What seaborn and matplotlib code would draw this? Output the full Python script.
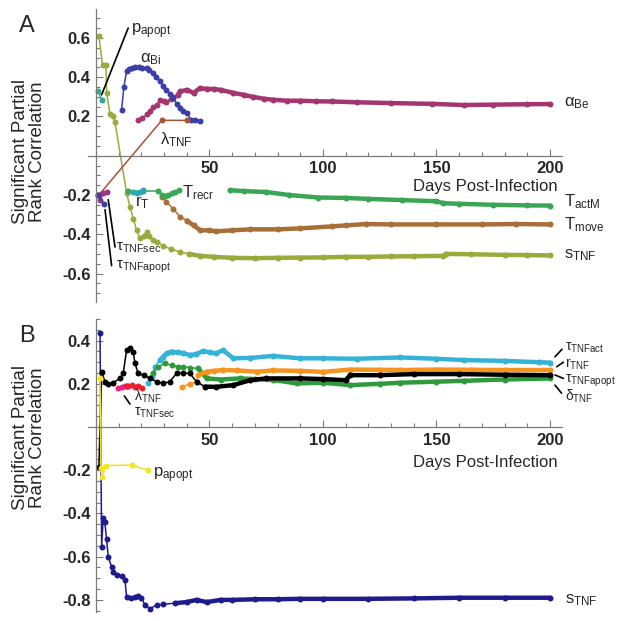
import numpy as np
import matplotlib
matplotlib.use('Agg')
import matplotlib.pyplot as plt
from matplotlib.ticker import MultipleLocator
import seaborn as sns

sns.set_style('ticks')
plt.rcParams['font.family'] = ['Liberation Sans', 'DejaVu Sans']
plt.rcParams['mathtext.fontset'] = 'custom'
plt.rcParams['mathtext.rm'] = 'Liberation Sans'
plt.rcParams['mathtext.it'] = 'Liberation Sans:italic'
plt.rcParams['mathtext.bf'] = 'Liberation Sans:bold'

# ---------------- panel A data (days post-infection, PRCC) ----------------
sTNF_A_days = [1.3, 2.9, 4.4, 4.7, 6.2, 7.6, 8.4, 13.5, 15, 16.4, 17.9, 19.4, 21, 22.3, 23.5, 25.2,
               27, 29.7, 33, 37, 41, 45.8, 52, 60, 70, 80, 90, 100, 110, 120, 130, 140, 153, 154,
               165, 180, 190, 200]
sTNF_A_vals = [0.61, 0.46, 0.46, 0.32, 0.21, 0.20, 0.17, -0.19, -0.26, -0.32, -0.38, -0.42, -0.41,
               -0.39, -0.41, -0.43, -0.44, -0.46, -0.475, -0.49, -0.50, -0.51, -0.515, -0.52, -0.522,
               -0.52, -0.519, -0.518, -0.515, -0.515, -0.513, -0.512, -0.51, -0.50, -0.502, -0.505,
               -0.506, -0.508]

Tmove_A_days = [29, 31, 34, 37, 40, 43, 46, 50, 53, 60, 68, 80, 90, 104, 110, 119, 130, 150, 170, 185, 200]
Tmove_A_vals = [-0.21, -0.235, -0.27, -0.31, -0.33, -0.355, -0.38, -0.38, -0.385, -0.38, -0.375,
                -0.375, -0.37, -0.36, -0.355, -0.348, -0.35, -0.35, -0.35, -0.348, -0.35]

TactM_A_days = [59, 65, 75, 85, 98, 110, 120, 135, 150, 153, 160, 175, 190, 200]
TactM_A_vals = [-0.176, -0.18, -0.185, -0.2, -0.213, -0.215, -0.22, -0.226, -0.232, -0.242, -0.245,
                -0.25, -0.253, -0.254]

Trecr_A_days = [14.2, 20.8, 27.5, 29, 30.4, 31.9, 33.3, 35, 36.7]
Trecr_A_vals = [-0.18, -0.18, -0.18, -0.2, -0.207, -0.2, -0.19, -0.185, -0.176]

rT_A_days = [16.5, 17.9, 19.4, 20.6]
rT_A_vals = [-0.185, -0.19, -0.185, -0.173]

aBe_A_days = [18.6, 20.5, 22.3, 24, 25.2, 27, 28.2, 30, 31, 33, 34, 36, 37, 40, 43, 45.8, 49, 52, 55,
              60.5, 65, 69, 74, 78, 84, 90, 97, 104, 115, 130, 148, 162, 175, 190, 200]
aBe_A_vals = [0.18, 0.19, 0.21, 0.23, 0.25, 0.26, 0.285, 0.28, 0.275, 0.29, 0.30, 0.31, 0.327, 0.335,
              0.32, 0.344, 0.34, 0.34, 0.335, 0.32, 0.31, 0.30, 0.29, 0.285, 0.28, 0.28, 0.277, 0.276,
              0.272, 0.268, 0.264, 0.258, 0.26, 0.262, 0.263]

aBi_A_days = [11.3, 12.3, 13.5, 14.5, 15.7, 17, 19, 20.5, 22.3, 23.5, 25.2, 26.5, 28.2, 29.5, 31,
              32.5, 34, 35.5, 37, 38.5, 40, 42, 43.5, 45.8]
aBi_A_vals = [0.234, 0.35, 0.43, 0.44, 0.446, 0.45, 0.45, 0.447, 0.446, 0.435, 0.42, 0.40, 0.378,
              0.355, 0.335, 0.315, 0.293, 0.265, 0.242, 0.23, 0.217, 0.183, 0.18, 0.177]

lTNF_A_days = [1.3, 29, 40]
lTNF_A_vals = [-0.2, 0.18, 0.18]

papopt_A_days = [1.0, 2.5]
papopt_A_vals = [0.33, 0.285]

tTNFsec_A_days = [1.0, 1.8, 3.2, 4.7]
tTNFsec_A_vals = [-0.2, -0.225, -0.19, -0.185]

tTNFapopt_A_days = [1.0, 3.5]
tTNFapopt_A_vals = [-0.2, -0.245]

# ---------------- panel B data ----------------
sTNF_B_days = [1.8, 2.5, 3.2, 3.9, 4.7, 5.4, 6.9, 7.6, 9.1, 11.3, 12.8, 13.5, 15.5, 17, 18.6, 20,
               21.6, 23.8, 26.7, 29.7, 35, 40, 44.3, 48.8, 55, 60, 70, 80, 90, 100, 120, 140, 160,
               180, 200]
sTNF_B_vals = [0.433, -0.554, -0.42, -0.44, -0.52, -0.60, -0.647, -0.67, -0.685, -0.69, -0.708,
               -0.786, -0.79, -0.786, -0.783, -0.79, -0.824, -0.84, -0.824, -0.82, -0.815, -0.81,
               -0.80, -0.81, -0.80, -0.80, -0.797, -0.797, -0.795, -0.795, -0.795, -0.793, -0.79,
               -0.79, -0.79]

tTNFapopt_B_days = [1.3, 2.5, 4.0, 5.4, 7.5, 10.6, 12, 13.5, 15, 16.4, 17.2, 18.6, 21, 23.8, 26.7,
                    29.7, 32.5, 35.5, 38.5, 41.4, 44.3, 48, 53, 60.5, 68, 75, 90, 100, 110, 112, 125,
                    140, 160, 180, 200]
tTNFapopt_B_vals = [-0.184, 0.256, 0.21, 0.2, 0.205, 0.225, 0.248, 0.356, 0.364, 0.349, 0.295,
                    0.248, 0.24, 0.225, 0.21, 0.202, 0.21, 0.248, 0.25, 0.248, 0.21, 0.187, 0.186,
                    0.194, 0.217, 0.225, 0.225, 0.222, 0.217, 0.24, 0.24, 0.245, 0.245, 0.242, 0.24]

tTNFact_B_days = [23, 24.5, 26, 28.2, 29.7, 31.1, 33.3, 36, 38.5, 41.4, 44, 47.3, 50.2, 53, 56, 60.5,
                  68, 78, 90, 100, 115, 134, 150, 162, 180, 195, 200]
tTNFact_B_vals = [0.205, 0.233, 0.28, 0.31, 0.326, 0.341, 0.349, 0.345, 0.341, 0.333, 0.337, 0.352,
                  0.345, 0.341, 0.356, 0.318, 0.32, 0.329, 0.318, 0.318, 0.316, 0.322, 0.316, 0.31,
                  0.306, 0.30, 0.298]

dTNF_B_days = [25.2, 27.4, 30.4, 33.5, 36, 38.5, 41.5, 45, 48.8, 55, 63.4, 70, 78, 88.4, 100, 112,
               125, 134, 150, 162, 180, 200]
dTNF_B_vals = [0.25, 0.279, 0.295, 0.285, 0.28, 0.279, 0.275, 0.271, 0.225, 0.22, 0.225, 0.222,
               0.218, 0.202, 0.205, 0.194, 0.2, 0.205, 0.21, 0.214, 0.22, 0.225]

rTNF_B_days = [38, 41.4, 44.3, 45, 48.8, 52, 56, 62, 70.8, 78, 90, 100, 112, 125, 134, 150, 165, 180, 200]
rTNF_B_vals = [0.187, 0.2, 0.21, 0.24, 0.256, 0.26, 0.264, 0.262, 0.256, 0.262, 0.26, 0.255, 0.266,
               0.265, 0.264, 0.266, 0.265, 0.264, 0.264]

lTNF_B_days = [9.8, 11.3, 12.8, 13.5]
lTNF_B_vals = [0.179, 0.187, 0.19, 0.19]

tTNFsec_B_days = [13.5, 14.2, 15.7, 17.2, 18.6, 20.1]
tTNFsec_B_vals = [0.19, 0.19, 0.195, 0.187, 0.19, 0.179]

papopt_B_days = [1.8, 2.2, 2.6, 4.5, 15.7, 23]
papopt_B_vals = [0.225, -0.19, -0.23, -0.178, -0.176, -0.2]


def draw(ax, days, vals, color, dense_from=None):
    sns.lineplot(x=days, y=vals, ax=ax, color=color, lw=1.1, marker='o', markersize=4.3,
                 markeredgewidth=0, sort=False, estimator=None)
    if dense_from is not None:
        d = np.array(days)
        v = np.array(vals)
        m = d >= dense_from
        ax.plot(d[m], v[m], color=color, lw=3.2, solid_capstyle='round', solid_joinstyle='round')


def setup(ax, ylim, yticks, xlab_y):
    ax.set_xlim(-3.5, 205.3)
    ax.set_ylim(*ylim)
    for s in ['top', 'right']:
        ax.spines[s].set_visible(False)
    for s in ['left', 'bottom']:
        ax.spines[s].set_position(('data', 0))
        ax.spines[s].set_color('#7a7a7a')
        ax.spines[s].set_linewidth(0.9)
    ax.set_xticks([50, 100, 150, 200], ['50', '100', '150', '200'], fontsize=12, fontweight='bold')
    ax.set_yticks(yticks, ['%g' % t for t in yticks], fontsize=12, fontweight='bold')
    ax.xaxis.set_minor_locator(MultipleLocator(10))
    ax.yaxis.set_minor_locator(MultipleLocator(0.05))
    ax.tick_params(which='both', direction='in', color='#7a7a7a', width=0.8)
    ax.tick_params(which='major', length=5, pad=4)
    ax.tick_params(which='minor', length=3)
    ax.set_xlabel('')
    ax.set_ylabel('')
    ax.text(203.5, xlab_y, 'Days Post-Infection', ha='right', va='center', fontsize=12)


def lead(ax, x0, y0, x1, y1):
    ax.plot([x0, x1], [y0, y1], color='black', lw=1.2, clip_on=False)


fig = plt.figure(figsize=(6.32, 6.21), dpi=100)
axA = fig.add_axes([88 / 632, 1 - 302 / 621, 474 / 632, 293 / 621])
axB = fig.add_axes([88 / 632, 1 - 612 / 621, 474 / 632, 293 / 621])

# panel A
draw(axA, sTNF_A_days, sTNF_A_vals, '#9aab3d', 40)
draw(axA, Tmove_A_days, Tmove_A_vals, '#a86f38', 38)
draw(axA, TactM_A_days, TactM_A_vals, '#3aa655', 59)
draw(axA, Trecr_A_days, Trecr_A_vals, '#3aa655')
draw(axA, rT_A_days, rT_A_vals, '#2fa6b6')
draw(axA, aBe_A_days, aBe_A_vals, '#a53570', 36)
draw(axA, aBi_A_days, aBi_A_vals, '#3b3ea6')
draw(axA, lTNF_A_days, lTNF_A_vals, '#a8533a')
draw(axA, papopt_A_days, papopt_A_vals, '#2ea894')
draw(axA, tTNFsec_A_days, tTNFsec_A_vals, '#9a3585')
draw(axA, tTNFapopt_A_days, tTNFapopt_A_vals, '#3b3ea6')
setup(axA, (-0.745, 0.747), [-0.6, -0.4, -0.2, 0.2, 0.4, 0.6], -0.158)

fs = 12
axA.text(206, 0.268, r'$\mathregular{α_{Be}}$', fontsize=fs, va='center')
axA.text(206, -0.232, r'$\mathregular{T_{actM}}$', fontsize=fs, va='center')
axA.text(206, -0.351, r'$\mathregular{T_{move}}$', fontsize=fs, va='center')
axA.text(206, -0.508, r'$\mathregular{s_{TNF}}$', fontsize=fs, va='center')
axA.text(15.5, 0.635, r'$\mathregular{p_{apopt}}$', fontsize=fs, va='center')
axA.text(19.2, 0.49, r'$\mathregular{α_{Bi}}$', fontsize=fs, va='center')
axA.text(28.0, 0.08, r'$\mathregular{λ_{TNF}}$', fontsize=fs, va='center')
axA.text(17.0, -0.24, r'$\mathregular{r_{T}}$', fontsize=fs, va='center')
axA.text(37.8, -0.19, r'$\mathregular{T_{recr}}$', fontsize=fs, va='center')
axA.text(9.0, -0.47, r'$\mathregular{τ_{TNFsec}}$', fontsize=11, va='center')
axA.text(9.0, -0.565, r'$\mathregular{τ_{TNFapopt}}$', fontsize=11, va='center')
lead(axA, 2.5, 0.31, 14.2, 0.65)
lead(axA, 5.4, -0.224, 8.4, -0.465)
lead(axA, 4.0, -0.275, 6.9, -0.56)

# panel B
draw(axB, sTNF_B_days, sTNF_B_vals, '#1f1b8c', 30)
draw(axB, tTNFact_B_days, tTNFact_B_vals, '#35b3d6', 28)
draw(axB, dTNF_B_days, dTNF_B_vals, '#2f9a3c', 45)
draw(axB, rTNF_B_days, rTNF_B_vals, '#f7941e', 45)
draw(axB, tTNFapopt_B_days, tTNFapopt_B_vals, '#000000', 45)
draw(axB, lTNF_B_days, lTNF_B_vals, '#e8237f')
draw(axB, tTNFsec_B_days, tTNFsec_B_vals, '#ea2030')
draw(axB, papopt_B_days, papopt_B_vals, '#f2e424')
setup(axB, (-0.856, 0.5), [-0.8, -0.6, -0.4, -0.2, 0.2, 0.4], -0.165)

fsb = 10
axB.text(206.5, 0.365, r'$\mathregular{τ_{TNFact}}$', fontsize=fsb, va='center')
axB.text(206.5, 0.290, r'$\mathregular{r_{TNF}}$', fontsize=fsb, va='center')
axB.text(206.5, 0.215, r'$\mathregular{τ_{TNFapopt}}$', fontsize=fsb, va='center')
axB.text(206.5, 0.140, r'$\mathregular{δ_{TNF}}$', fontsize=fsb, va='center')
axB.text(206.5, -0.80, r'$\mathregular{s_{TNF}}$', fontsize=fs, va='center')
axB.text(16.8, 0.140, r'$\mathregular{λ_{TNF}}$', fontsize=fsb, va='center')
axB.text(16.8, 0.068, r'$\mathregular{τ_{TNFsec}}$', fontsize=fsb, va='center')
axB.text(25.0, -0.222, r'$\mathregular{p_{apopt}}$', fontsize=fs, va='center')
lead(axB, 202.2, 0.325, 205.3, 0.36)
lead(axB, 203.0, 0.279, 205.9, 0.30)
lead(axB, 202.2, 0.241, 205.9, 0.225)
lead(axB, 202.2, 0.194, 205.1, 0.157)
lead(axB, 12.5, 0.144, 15.0, 0.106)

# panel letters and y labels
fig.text(27 / 632, 1 - 26 / 621, 'A', fontsize=17, ha='center', va='center')
fig.text(27 / 632, 1 - 336 / 621, 'B', fontsize=17, ha='center', va='center')
ylab = 'Significant Partial\nRank Correlation'
fig.text(29 / 632, 1 - 152 / 621, ylab, rotation=90, fontsize=13.5, ha='center', va='center',
         multialignment='center', linespacing=1.05)
fig.text(29 / 632, 1 - 438 / 621, ylab, rotation=90, fontsize=13.5, ha='center', va='center',
         multialignment='center', linespacing=1.05)

fig.savefig('out.png', dpi=100)
